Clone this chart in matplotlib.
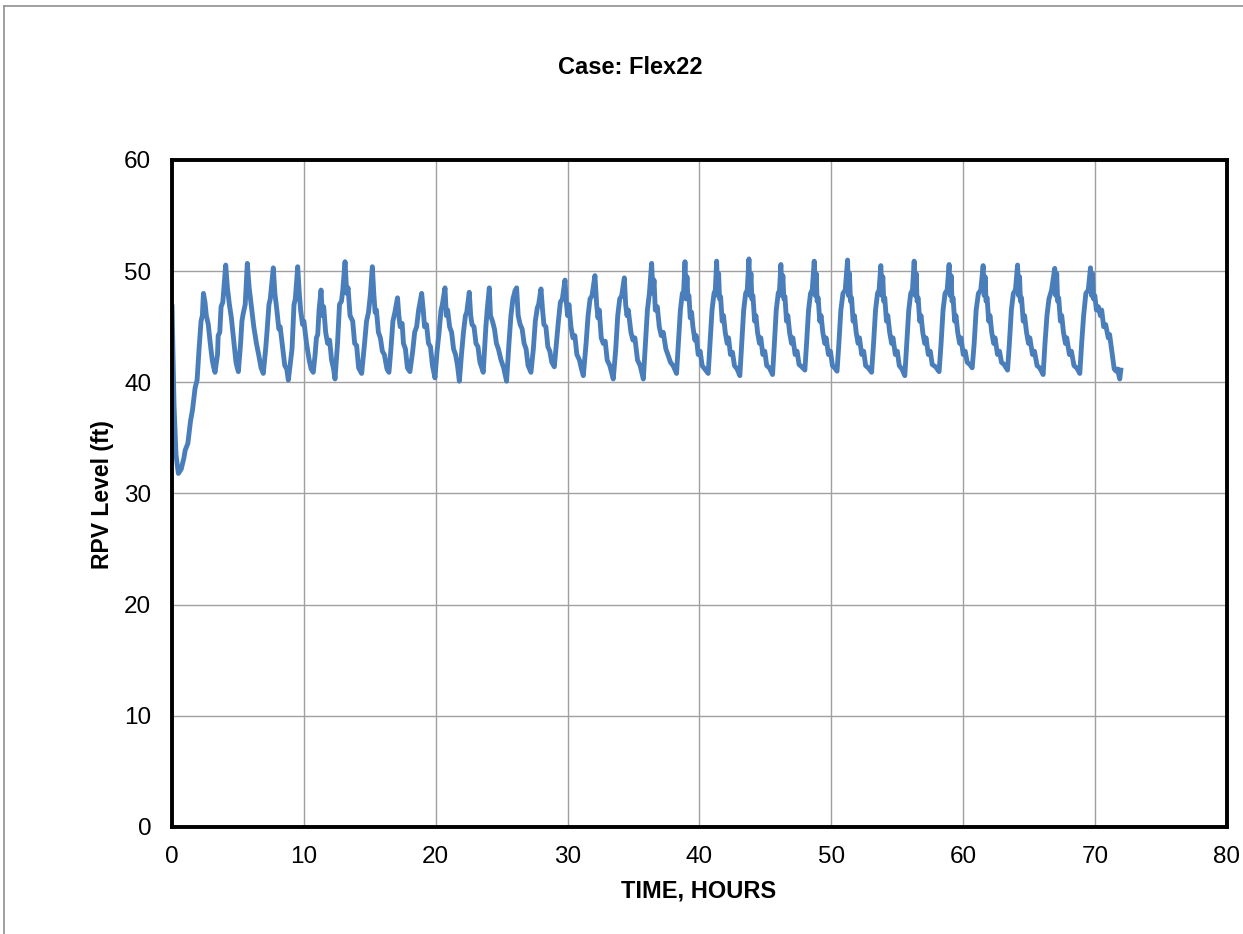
# RPV level vs time, case Flex22
import matplotlib.pyplot as plt
from matplotlib.lines import Line2D

# Data (time in hours, level in ft)
time_hours = [
    0.0, 0.15, 0.3, 0.48, 0.7, 0.9, 1.0, 1.2, 1.4, 1.55, 1.75, 1.9, 2.05, 2.2, 2.3, 2.38,
    2.5, 2.6, 2.75, 2.9, 3.05, 3.15, 3.26,
    3.45, 3.5, 3.62, 3.72, 3.85, 4.07,
    4.2, 4.35, 4.5, 4.7, 4.85, 4.95, 5.03,
    5.2, 5.3, 5.4, 5.55, 5.71,
    5.85, 6.0, 6.2, 6.4, 6.6, 6.75, 6.92,
    7.1, 7.2, 7.35, 7.45, 7.68,
    7.8, 7.95, 8.1, 8.2, 8.35, 8.55, 8.7, 8.82,
    9.0, 9.1, 9.25, 9.35, 9.53,
    9.65, 9.75, 9.9, 10.0, 10.2, 10.4, 10.55, 10.71,
    10.85, 10.95, 11.05, 11.15, 11.3,
    11.4, 11.5, 11.65, 11.8, 11.95, 12.1, 12.25, 12.36,
    12.55, 12.7, 12.85, 12.95, 13.12,
    13.25, 13.35, 13.5, 13.7, 13.85, 14.0, 14.15, 14.38,
    14.6, 14.75, 14.9, 15.05, 15.19,
    15.3, 15.4, 15.5, 15.65, 15.8, 15.95, 16.1, 16.3, 16.45,
    16.6, 16.75, 16.9, 17.1,
    17.2, 17.3, 17.45, 17.55, 17.7, 17.85, 18.04,
    18.25, 18.4, 18.55, 18.7, 18.93,
    19.05, 19.15, 19.3, 19.45, 19.6, 19.75, 19.94,
    20.1, 20.25, 20.4, 20.5, 20.7,
    20.8, 20.9, 21.05, 21.2, 21.35, 21.5, 21.65, 21.79,
    21.95, 22.1, 22.25, 22.35, 22.54,
    22.65, 22.75, 22.9, 23.05, 23.2, 23.35, 23.6,
    23.7, 23.8, 23.9, 24.06,
    24.15, 24.3, 24.45, 24.6, 24.75, 24.95, 25.15, 25.37,
    25.55, 25.7, 25.85, 26.03, 26.08, 26.13,
    26.25, 26.4, 26.55, 26.7, 26.85, 27.0, 27.22,
    27.4, 27.55, 27.7, 27.8, 27.98,
    28.1, 28.2, 28.35, 28.5, 28.65, 28.8, 28.99,
    29.15, 29.3, 29.45, 29.6, 29.8,
    29.9, 30.0, 30.1, 30.25, 30.4, 30.55, 30.7, 30.9, 31.05, 31.19,
    31.4, 31.55, 31.7, 31.85, 32.07,
    32.2, 32.3, 32.4, 32.55, 32.7, 32.85, 33.0, 33.2, 33.46,
    33.65, 33.8, 33.95, 34.1, 34.3,
    34.4, 34.5, 34.6, 34.8, 34.95, 35.1, 35.3, 35.5, 35.74,
    35.9, 36.05, 36.2, 36.37,
    36.47, 36.55, 36.65, 36.8, 36.95, 37.1, 37.25, 37.45, 37.6, 37.8, 38.0, 38.26,
    38.4, 38.55, 38.7, 38.8, 38.9,
    38.98, 39.05, 39.12, 39.2, 39.3, 39.4, 39.5, 39.65, 39.75, 39.9, 40.05, 40.2, 40.4, 40.66,
    40.8, 40.95, 41.1, 41.2, 41.3,
    41.38, 41.45, 41.52, 41.6, 41.72, 41.82, 41.95, 42.1, 42.2, 42.35, 42.5, 42.65, 42.85, 43.06,
    43.2, 43.35, 43.5, 43.62, 43.75,
    43.83, 43.9, 43.97, 44.05, 44.18, 44.28, 44.4, 44.55, 44.65, 44.8, 44.95, 45.1, 45.3, 45.54,
    45.68, 45.82, 45.97, 46.07, 46.17,
    46.25, 46.32, 46.4, 46.48, 46.6, 46.7, 46.83, 46.98, 47.08, 47.25, 47.4, 47.55, 47.75, 47.99,
    48.12, 48.27, 48.42, 48.55, 48.7,
    48.78, 48.85, 48.92, 49.0, 49.12, 49.22, 49.35, 49.5, 49.6, 49.78, 49.93, 50.08, 50.25, 50.43,
    50.57, 50.72, 50.88, 51.05, 51.23,
    51.3, 51.37, 51.45, 51.53, 51.65, 51.75, 51.88, 52.03, 52.13, 52.3, 52.45, 52.6, 52.8, 53.05,
    53.2, 53.35, 53.5, 53.62, 53.75,
    53.83, 53.9, 53.97, 54.05, 54.18, 54.28, 54.42, 54.57, 54.67, 54.85, 55.0, 55.15, 55.35, 55.57,
    55.72, 55.87, 56.02, 56.15, 56.28,
    56.36, 56.43, 56.5, 56.58, 56.7, 56.8, 56.93, 57.08, 57.18, 57.35, 57.5, 57.65, 57.9, 58.17,
    58.32, 58.47, 58.62, 58.78, 58.93,
    59.01, 59.08, 59.15, 59.23, 59.35, 59.45, 59.58, 59.73, 59.83, 60.0, 60.15, 60.3, 60.5, 60.68,
    60.83, 60.98, 61.15, 61.33, 61.51,
    61.59, 61.66, 61.73, 61.81, 61.93, 62.03, 62.16, 62.31, 62.41, 62.6, 62.75, 62.9, 63.1, 63.36,
    63.5, 63.65, 63.8, 63.96, 64.12,
    64.2, 64.27, 64.34, 64.42, 64.55, 64.65, 64.8, 64.95, 65.05, 65.25, 65.4, 65.6, 65.8, 66.06,
    66.2, 66.35, 66.5, 66.7, 66.94,
    67.02, 67.09, 67.16, 67.24, 67.37, 67.47, 67.6, 67.75, 67.85, 68.05, 68.2, 68.4, 68.6, 68.84,
    68.98, 69.13, 69.3, 69.48, 69.65,
    69.73, 69.8, 69.88, 69.98, 70.1, 70.25, 70.4, 70.5, 70.65, 70.8, 71.0, 71.1, 71.3, 71.45,
    71.6, 71.7, 71.87, 71.95,
]

rpv_level = [
    46.8, 38.0, 33.5, 31.8, 32.2, 33.2, 33.9, 34.5, 36.5, 37.5, 39.5, 40.2, 43.0, 45.5, 46.0, 48.0,
    47.2, 46.0, 45.2, 43.5, 42.0, 41.4, 40.9,
    42.5, 44.2, 44.5, 46.8, 47.2, 50.55,
    48.5, 47.0, 45.8, 43.5, 41.8, 41.3, 40.96,
    43.5, 45.5, 46.2, 47.0, 50.7,
    48.5, 47.0, 45.0, 43.5, 42.3, 41.3, 40.8,
    43.0, 44.5, 47.0, 47.5, 50.3,
    48.0, 46.5, 44.8, 45.0, 43.5, 41.5, 41.2, 40.2,
    42.0, 43.0, 47.0, 47.5, 50.4,
    48.0, 46.5, 45.2, 45.5, 43.5, 42.0, 41.2, 40.9,
    42.5, 44.0, 44.3, 46.5, 48.3,
    46.0, 46.8, 44.5, 43.5, 43.8, 42.0, 41.2, 40.3,
    43.5, 47.0, 47.3, 48.3, 50.85,
    48.0, 48.5, 46.0, 45.5, 43.5, 43.3, 41.3, 40.8,
    43.5, 45.5, 46.3, 48.0, 50.4,
    48.0, 46.3, 46.5, 44.5, 44.0, 42.8, 42.5, 41.2, 40.9,
    43.0, 45.5, 46.3, 47.6,
    46.0, 45.0, 45.3, 43.5, 43.0, 41.3, 40.96,
    42.8, 44.5, 45.0, 46.5, 48.0,
    46.5, 45.0, 45.2, 43.5, 43.2, 41.5, 40.4,
    42.8, 44.5, 46.5, 47.0, 48.5,
    46.0, 46.5, 45.0, 44.5, 43.0, 42.5, 41.5, 40.1,
    42.5, 44.5, 46.0, 46.3, 48.1,
    46.0, 45.2, 45.0, 43.5, 43.2, 41.8, 40.9,
    43.0, 45.0, 46.5, 48.5,
    46.0, 45.5, 44.8, 43.5, 43.0, 42.0, 41.3, 40.1,
    43.5, 46.0, 47.5, 48.3, 47.6, 48.5,
    46.0, 45.2, 44.8, 43.5, 43.0, 41.5, 40.9,
    43.0, 45.5, 46.7, 47.0, 48.4,
    46.5, 45.2, 45.0, 43.2, 42.8, 41.8, 41.4,
    43.5, 45.5, 47.2, 47.5, 49.2,
    47.2, 46.0, 47.0, 45.0, 44.0, 44.2, 42.5, 42.0, 41.2, 40.6,
    43.5, 46.0, 47.5, 47.8, 49.6,
    47.0, 45.8, 46.5, 44.0, 43.5, 43.7, 42.0, 41.5, 40.3,
    43.0, 46.0, 47.5, 47.8, 49.4,
    47.0, 46.0, 46.5, 44.5, 43.8, 44.0, 42.0, 41.5, 40.3,
    43.5, 46.5, 48.0, 50.7,
    48.0, 49.2, 46.5, 46.8, 45.0, 44.2, 44.5, 43.0, 42.5, 41.8, 41.5, 40.8,
    43.5, 46.5, 48.0, 48.2, 50.85,
    47.5, 49.5, 47.5, 47.8, 45.8, 46.3, 45.0, 43.8, 44.2, 42.5, 42.8, 41.5, 41.2, 40.8,
    43.5, 46.5, 48.0, 48.3, 50.9,
    47.8, 49.8, 47.5, 47.7, 45.5, 46.0, 44.5, 43.5, 44.0, 42.5, 42.7, 41.5, 41.2, 40.6,
    43.5, 46.5, 48.0, 48.3, 51.1,
    47.8, 49.8, 47.5, 47.8, 45.5, 46.0, 44.5, 43.5, 44.0, 42.5, 42.8, 41.5, 41.3, 40.7,
    43.5, 46.5, 48.0, 48.3, 50.6,
    47.8, 49.6, 47.5, 47.7, 45.5, 46.0, 44.5, 43.5, 44.0, 42.5, 42.8, 41.6, 41.4, 41.1,
    43.5, 46.5, 48.0, 48.3, 50.9,
    47.8, 49.8, 47.3, 47.6, 45.5, 46.0, 44.5, 43.5, 44.0, 42.5, 42.8, 41.5, 41.3, 41.0,
    43.5, 46.5, 48.0, 48.3, 51.0,
    47.8, 49.8, 47.3, 47.6, 45.5, 46.0, 44.5, 43.5, 44.0, 42.5, 42.8, 41.5, 41.3, 40.9,
    43.5, 46.5, 48.0, 48.3, 50.5,
    47.8, 49.5, 47.3, 47.6, 45.5, 46.0, 44.5, 43.5, 44.0, 42.5, 42.8, 41.5, 41.2, 40.6,
    43.5, 46.5, 48.0, 48.3, 50.9,
    47.8, 49.8, 47.3, 47.6, 45.5, 46.0, 44.5, 43.5, 44.0, 42.5, 42.8, 41.6, 41.4, 40.96,
    43.5, 46.5, 48.0, 48.3, 50.6,
    47.8, 49.6, 47.3, 47.6, 45.5, 46.0, 44.5, 43.5, 44.0, 42.5, 42.8, 41.8, 41.6, 41.3,
    43.5, 46.5, 48.0, 48.3, 50.5,
    47.8, 49.5, 47.3, 47.6, 45.5, 46.0, 44.5, 43.5, 44.0, 42.5, 42.8, 41.8, 41.6, 41.1,
    43.5, 46.5, 48.0, 48.3, 50.55,
    47.8, 49.5, 47.3, 47.6, 45.5, 46.0, 44.5, 43.5, 44.0, 42.5, 42.8, 41.5, 41.3, 40.7,
    43.5, 46.0, 47.5, 48.3, 50.25,
    47.8, 49.8, 47.3, 47.6, 45.5, 46.0, 44.5, 43.5, 44.0, 42.5, 42.8, 41.5, 41.3, 40.8,
    43.5, 46.0, 48.0, 48.3, 50.3,
    47.8, 49.8, 47.5, 47.8, 46.5, 46.8, 46.0, 46.5, 45.0, 45.2, 44.0, 44.3, 42.5, 41.2,
    41.0, 41.2, 40.3, 41.1,
]

x_ticks = [0, 10, 20, 30, 40, 50, 60, 70, 80]
y_ticks = [0, 10, 20, 30, 40, 50, 60]

plt.rcParams['font.family'] = ['Liberation Sans', 'DejaVu Sans']

fig = plt.figure(figsize=(12.43, 9.34), dpi=100)
ax = fig.add_axes([0.1384, 0.1146, 0.8487, 0.7141])

ax.plot(time_hours, rpv_level, color='#4a7ebb', linewidth=3.5, solid_joinstyle='round')

ax.set_xlim(0, 80)
ax.set_ylim(0, 60)
ax.set_xticks(x_ticks)
ax.set_yticks(y_ticks)
ax.grid(True, color='#a0a0a0', linewidth=1.0)
ax.set_axisbelow(True)
ax.tick_params(axis='both', length=0, labelsize=17.5)
ax.tick_params(axis='x', pad=14)
ax.tick_params(axis='y', pad=15)

for spine in ax.spines.values():
    spine.set_linewidth(2.8)
    spine.set_color('black')

ax.set_xlabel('TIME, HOURS', fontsize=17, fontweight='bold')
ax.set_ylabel('RPV Level (ft)', fontsize=16.5, fontweight='bold')
ax.xaxis.set_label_coords(0.4995, -0.079)
ax.yaxis.set_label_coords(-0.055, 0.499)
fig.text(0.507, 0.928, 'Case: Flex22', ha='center', va='center',
         fontsize=17, fontweight='bold')

# outer chart border (top and left edges visible)
fig.add_artist(Line2D([0.003, 1.0], [0.994, 0.994], color='#909090', linewidth=1.2))
fig.add_artist(Line2D([0.003, 0.003], [0.0, 0.994], color='#909090', linewidth=1.2))

fig.savefig('out.png', dpi=100)
